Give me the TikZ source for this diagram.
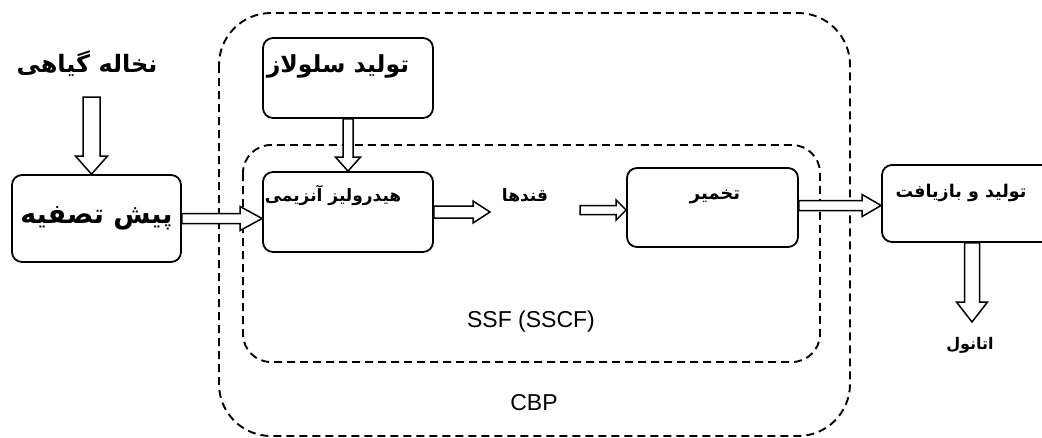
\documentclass[tikz,border=0pt]{standalone}
\usepackage{fontspec}
\setsansfont{Liberation Sans}
\newfontfamily\fa[Script=Arabic]{DejaVu Sans}
\TeXXeTstate=1
\usetikzlibrary{calc}
\tikzset{
  box/.style={draw,line width=1.8pt,rounded corners=10pt,inner sep=0pt},
  zone/.style={draw,line width=1.9pt,dash pattern=on 8pt off 5pt},
  fat/.style={draw,line width=1.5pt,fill=white,line join=miter},
  lbl/.style={inner sep=1pt},
}
% hollow arrows: from, to, shaft half width, head half width, head length
\newcommand{\rarr}[5]{\path[fat] let \p1=#1, \p2=#2 in (\x1,\y1-#3pt) -- (\x2-#5pt,\y1-#3pt) -- (\x2-#5pt,\y1-#4pt) -- (\x2,\y1) -- (\x2-#5pt,\y1+#4pt) -- (\x2-#5pt,\y1+#3pt) -- (\x1,\y1+#3pt) -- cycle;}
\newcommand{\darr}[5]{\path[fat] let \p1=#1, \p2=#2 in (\x1-#3pt,\y1) -- (\x1-#3pt,\y2+#5pt) -- (\x1-#4pt,\y2+#5pt) -- (\x1,\y2) -- (\x1+#4pt,\y2+#5pt) -- (\x1+#3pt,\y2+#5pt) -- (\x1+#3pt,\y1) -- cycle;}
\newcommand{\fat}[2]{\fontsize{#1}{#1}\fa\bfseries\beginR #2\endR}
\begin{document}
\begin{tikzpicture}[x=1pt,y=-1pt,line join=round]
\clip (0,0) rectangle (1042,437);
% zones
\draw[zone,rounded corners=52pt] (219,13) rectangle (850,436);
\draw[zone,rounded corners=28pt] (243,145) rectangle (820,362);
\node[lbl] (cbp) at (534,403) {\fontsize{23}{23}\sffamily CBP};
\node[lbl] (ssf) at (531,322) {\fontsize{23}{23}\sffamily SSF (SSCF)};
% boxes
\node[box,minimum width=169pt,minimum height=87pt] (pre) at (96.5,218.5) {\fat{27}{\beginR پیش تصفیه\endR}};
\node[box,minimum width=170pt,minimum height=80pt] (cel) at (348,78) {};
\node[lbl] (celtxt) at (338,66) {\fat{23.5}{\beginR تولید سلولاز\endR}};
\node[box,minimum width=170pt,minimum height=80pt] (hyd) at (348,212) {};
\node[lbl] (hydtxt) at (333,195) {\fat{17}{\beginR هیدرولیز آنزیمی\endR}};
\node[box,minimum width=171pt,minimum height=79pt] (fer) at (712.5,207.5) {};
\node[lbl] (fertxt) at (715,197) {\fat{18}{تخمیر}};
\node[box,minimum width=180pt,minimum height=77pt] (prod) at (972,203.5) {};
\node[lbl] (prodtxt) at (961,193) {\fat{17.5}{\beginR تولید و بازیافت\endR}};
% labels
\node[lbl] (bran) at (87,64) {\fat{24}{\beginR نخاله گیاهی\endR}};
\node[lbl] (sug) at (525,195) {\fat{17}{قندها}};
\node[lbl] (eth) at (970,345) {\fat{16}{اتانول}};
\coordinate (branout) at (91.5,97);
\coordinate (sugin) at (490,211);
\coordinate (sugout) at (580,210);
\coordinate (ethin) at (972,322);
% arrows
\darr{(branout)}{(pre.north)}{8.5}{16}{18}
\rarr{(pre.east)}{(hyd.west)}{5}{12}{22}
\darr{(cel.south)}{(hyd.north)}{5}{12.5}{14}
\rarr{(hyd.east)}{(sugin)}{6}{11}{17}
\rarr{(sugout)}{(fer.west)}{4.5}{10}{10}
\rarr{($(fer.east)+(0,-2)$)}{(prod.west)}{5}{11}{19}
\darr{(prod.south)}{(ethin)}{7.5}{15.5}{20}
\end{tikzpicture}
\end{document}
